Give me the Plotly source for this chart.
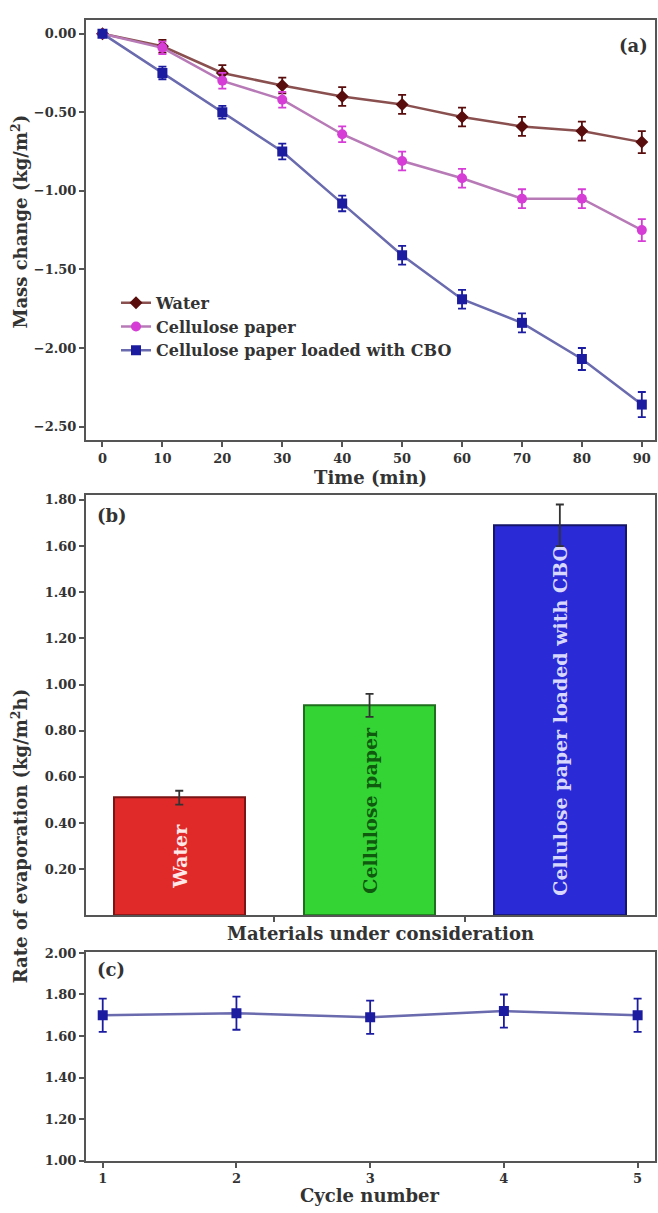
import plotly.graph_objects as go

# ---------------- data ----------------
time_min = [0, 10, 20, 30, 40, 50, 60, 70, 80, 90]
water_mass = [0.00, -0.08, -0.25, -0.33, -0.40, -0.45, -0.53, -0.59, -0.62, -0.69]
water_err = [0.02, 0.04, 0.05, 0.05, 0.06, 0.06, 0.06, 0.06, 0.06, 0.07]
paper_mass = [0.00, -0.09, -0.30, -0.42, -0.64, -0.81, -0.92, -1.05, -1.05, -1.25]
paper_err = [0.02, 0.04, 0.05, 0.05, 0.05, 0.06, 0.06, 0.06, 0.06, 0.07]
cbo_mass = [0.00, -0.25, -0.50, -0.75, -1.08, -1.41, -1.69, -1.84, -2.07, -2.36]
cbo_err = [0.02, 0.04, 0.04, 0.05, 0.05, 0.06, 0.06, 0.06, 0.07, 0.08]

materials = ["Water", "Cellulose paper", "Cellulose paper loaded with CBO"]
material_pos = [0, 1, 2]
rates = [0.51, 0.91, 1.69]
rate_err = [0.03, 0.05, 0.09]

cycles = [1, 2, 3, 4, 5]
cycle_rate = [1.70, 1.71, 1.69, 1.72, 1.70]
cycle_err = [0.08, 0.08, 0.08, 0.08, 0.08]

ticks_a_y = [0.0, -0.5, -1.0, -1.5, -2.0, -2.5]
ticks_b_y = [0.2, 0.4, 0.6, 0.8, 1.0, 1.2, 1.4, 1.6, 1.8]
ticks_c_y = [1.0, 1.2, 1.4, 1.6, 1.8, 2.0]

# ---------------- style ----------------
W, H = 658, 1213
FONT = "DejaVu Serif"
AX = "#555555"
TXT = "#333333"
c_water, c_water_line = "#5a0d0d", "#8a5050"
c_paper, c_paper_line = "#d63cd6", "#b77ab7"
c_cbo, c_cbo_line = "#1c1ca0", "#6a6aae"


def px_x(x):
    return x / W


def px_y(y):
    return 1 - y / H


fig = go.Figure()


def add_line(x, y, e, name, mc, lc, sym, xa, ya, show=True):
    fig.add_trace(go.Scatter(
        x=x, y=y, name=name, mode="lines+markers",
        line=dict(color=lc, width=2.5),
        marker=dict(color=mc, size=10, symbol=sym, line=dict(width=0)),
        error_y=dict(type="data", array=e, color=mc, thickness=1.8, width=4),
        xaxis=xa, yaxis=ya, showlegend=show,
    ))


add_line(time_min, water_mass, water_err, "Water", c_water, c_water_line, "diamond", "x", "y")
add_line(time_min, paper_mass, paper_err, "Cellulose paper", c_paper, c_paper_line, "circle", "x", "y")
add_line(time_min, cbo_mass, cbo_err, "Cellulose paper loaded with CBO", c_cbo, c_cbo_line, "square", "x", "y")

bar_colors = ["#e02a2a", "#35d435", "#2a2ad6"]
bar_lines = ["#7a1515", "#1e6e1e", "#15156a"]
bar_text_colors = ["#ffe8e8", "#0f5a0f", "#d8d8ff"]
fig.add_trace(go.Bar(
    x=material_pos, y=rates, width=0.69, text=materials,
    textposition="inside", textangle=-90, insidetextanchor="middle",
    textfont=dict(family=FONT, size=19, weight="bold", color=bar_text_colors),
    marker=dict(color=bar_colors, line=dict(color=bar_lines, width=2)),
    error_y=dict(type="data", array=rate_err, color="#333333", thickness=1.8, width=4),
    xaxis="x2", yaxis="y2", showlegend=False,
))

add_line(cycles, cycle_rate, cycle_err, "cycles", c_cbo, c_cbo_line, "square", "x3", "y3", show=False)

axis_common = dict(
    showline=True, linecolor=AX, linewidth=2, mirror=True,
    ticks="outside", ticklen=5, tickwidth=1.5, tickcolor=AX,
    showgrid=False, zeroline=False,
    tickfont=dict(family=FONT, size=13, weight="bold", color=TXT),
)

xdom = [px_x(86), px_x(655)]
fig.update_layout(
    width=W, height=H,
    margin=dict(l=0, r=0, t=0, b=0),
    paper_bgcolor="white", plot_bgcolor="white",
    bargap=0,
    xaxis=dict(axis_common, domain=xdom, anchor="y", range=[-2.75, 92.2],
               tickvals=time_min),
    yaxis=dict(axis_common, domain=[px_y(439), px_y(14)], anchor="x",
               range=[-2.585, 0.088], tickvals=ticks_a_y, tickformat=".2f"),
    xaxis2=dict(axis_common, domain=xdom, anchor="y2", range=[-0.49, 2.5],
                tickvals=[0.5, 1.5], showticklabels=False),
    yaxis2=dict(axis_common, domain=[px_y(920), px_y(495)], anchor="x2",
                range=[0, 1.82], tickvals=ticks_b_y, tickformat=".2f"),
    xaxis3=dict(axis_common, domain=xdom, anchor="y3", range=[0.875, 5.13],
                tickvals=cycles),
    yaxis3=dict(axis_common, domain=[px_y(1168), px_y(957)], anchor="x3",
                range=[1.0, 2.005], tickvals=ticks_c_y, tickformat=".2f"),
    legend=dict(x=px_x(116), y=px_y(283), xanchor="left", yanchor="top",
                bgcolor="rgba(0,0,0,0)",
                font=dict(family=FONT, size=16, weight="bold", color=TXT),
                tracegroupgap=0),
)


def ann(text, x, y, size=18, angle=0, xanchor="center", yanchor="middle"):
    fig.add_annotation(text=text, x=px_x(x), y=px_y(y), xref="paper", yref="paper",
                       showarrow=False, textangle=angle, xanchor=xanchor, yanchor=yanchor,
                       font=dict(family=FONT, size=size, weight="bold", color=TXT))


ann("Time (min)", 370, 477)
ann("Materials under consideration", 380, 938)
ann("Cycle number", 370, 1203)
ann("Mass change (kg/m<sup>2</sup>)", 20, 218, angle=-90)
ann("Rate of evaporation (kg/m<sup>2</sup>h)", 20, 840, angle=-90)
ann("(a)", 650, 40, xanchor="right")
ann("(b)", 95, 515, xanchor="left")
ann("(c)", 95, 975, xanchor="left")

fig.write_html("out.html")
